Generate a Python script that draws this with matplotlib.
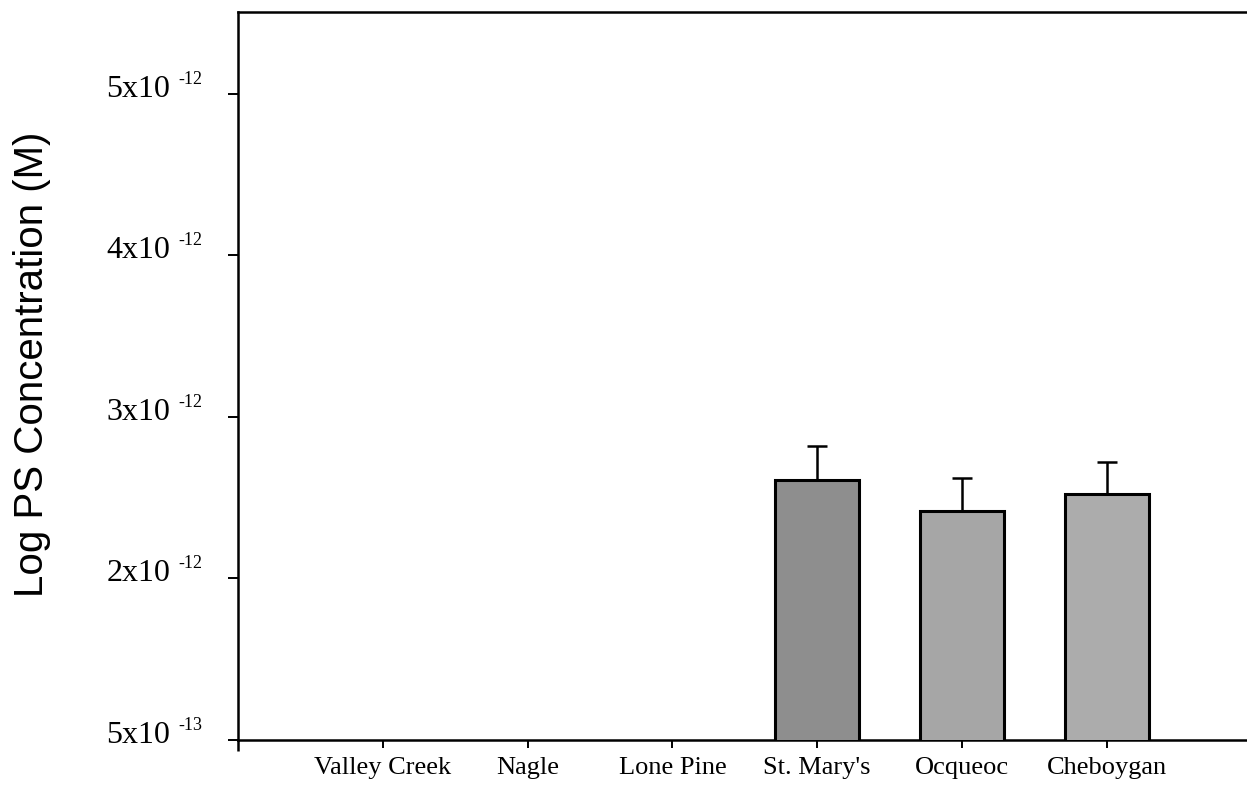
import numpy as np
import matplotlib.pyplot as plt

# sites along the x axis
sites = ["Valley Creek", "Nagle", "Lone Pine", "St. Mary's", "Ocqueoc", "Cheboygan"]
# mean PS concentration, units of 1e-12 M (nan = not detected)
conc = [np.nan, np.nan, np.nan, 2.61, 2.42, 2.52]
conc_err = [np.nan, np.nan, np.nan, 0.21, 0.20, 0.20]
bar_colors = ["#a8a8a8", "#a8a8a8", "#a8a8a8", "#8e8e8e", "#a6a6a6", "#acacac"]

# y tick positions and their labels (mantissa + exponent)
ytick_pos = [1, 2, 3, 4, 5]
ytick_base = ["5x10", "2x10", "3x10", "4x10", "5x10"]
ytick_exp = ["-13", "-12", "-12", "-12", "-12"]

W, H = 1247, 785
fig = plt.figure(figsize=(W / 100, H / 100), dpi=100)
step = 144.8  # px per category
ax = fig.add_axes([238 / W, 45 / H, (7.3 * step) / W, 728 / H])

x = np.arange(len(sites))
ax.bar(x, conc, width=0.58, color=bar_colors, edgecolor="black",
       linewidth=2.2, zorder=3)
up_err = np.array(conc_err)
ax.errorbar(x, conc, yerr=[np.zeros_like(up_err), up_err], fmt="none",
            ecolor="black", elinewidth=1.8, capsize=7, capthick=1.8,
            zorder=2)

ax.set_xlim(-1.0, 6.3)
ax.set_ylim(1.0, 5.505)

for side in ["left", "bottom", "top"]:
    ax.spines[side].set_linewidth(1.8)
ax.spines["right"].set_visible(False)

ax.set_xticks(x)
ax.set_xticklabels(sites, family="Liberation Serif", fontsize=19)
ax.tick_params(axis="x", direction="out", length=6, width=1.4, pad=6)
ax.set_xticks([-1.0], minor=True)
ax.tick_params(axis="x", which="minor", direction="out", length=8, width=1.8)

ax.set_yticks(ytick_pos)
ax.set_yticklabels([])
ax.tick_params(axis="y", direction="out", length=7.2, width=1.4)

for pos, base, ex in zip(ytick_pos, ytick_base, ytick_exp):
    ax.annotate(base, xy=(0, pos), xycoords=("axes fraction", "data"),
                xytext=(-68 * 0.72, -3 * 0.72), textcoords="offset points",
                ha="right", va="baseline", family="Liberation Serif",
                fontsize=23)
    ax.annotate(ex, xy=(0, pos), xycoords=("axes fraction", "data"),
                xytext=(-60 * 0.72, 10 * 0.72), textcoords="offset points",
                ha="left", va="baseline", family="Liberation Serif",
                fontsize=13)

fig.text(32 / W, 1 - 364 / H, "Log PS Concentration (M)", rotation=90,
         ha="center", va="center", family="Liberation Sans", fontsize=29)

fig.savefig("out.png", dpi=100)
